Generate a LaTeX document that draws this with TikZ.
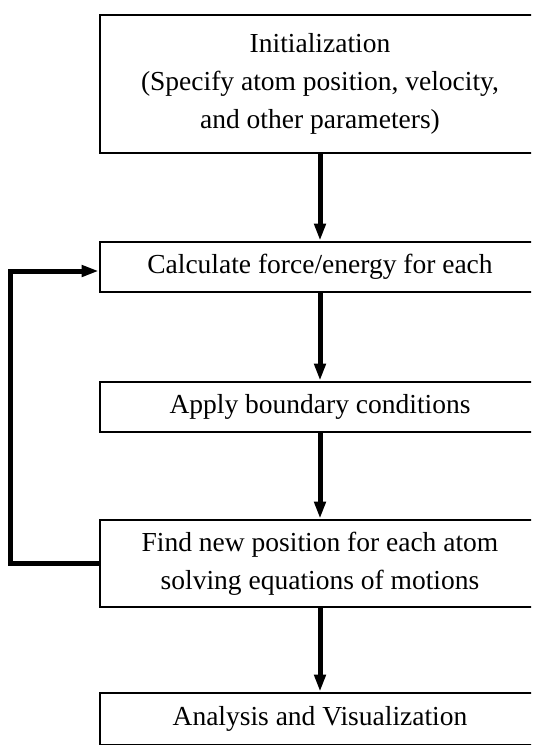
\documentclass[tikz,border=0pt]{standalone}
\usepackage{fontspec}
\setmainfont{Liberation Serif}
\usetikzlibrary{arrows.meta}

\begin{document}
\begin{tikzpicture}[x=1pt,y=-1pt,
		stepbox/.style={draw=black, line width=2.6pt, minimum width=440pt, inner sep=0pt, align=center, font=\fontsize{27.5}{38}\selectfont},
		flow/.style={line width=5pt, -{Triangle[length=17pt,width=11pt]}}]
				\useasboundingbox (0,0) rectangle (534,745);
				\clip (0,0) rectangle (531,745);
				\node[stepbox, minimum height=138pt] (init) at (320,84) {Initialization\\(Specify atom position, velocity,\\and other parameters)};
				\node[stepbox, minimum height=50pt] (force) at (320,267) {Calculate force/energy for each};
				\node[stepbox, minimum height=50pt] (bound) at (320,407) {Apply boundary conditions};
				\node[stepbox, minimum height=87pt] (move) at (320,563.5) {Find new position for each atom\\solving equations of motions};
				\node[stepbox, minimum height=52pt] (anal) at (320,719) {Analysis and Visualization};
				\draw[flow] (init) -- (force);
				\draw[flow] (force) -- (bound);
				\draw[flow] (bound) -- (move);
				\draw[flow] (move) -- (anal);
				\draw[flow] (move.west) -- ++(-88,0) |- ([yshift=-4pt]force.west);
			\end{tikzpicture}
\end{document}
